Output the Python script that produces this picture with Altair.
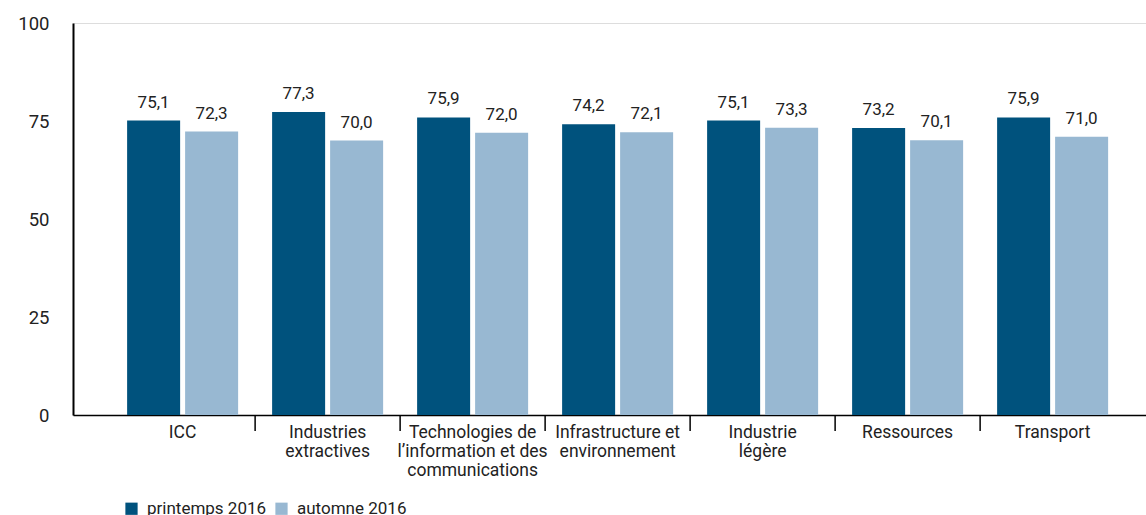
import altair as alt
import pandas as pd

categories = ["ICC", "Industries|extractives", "Technologies de|l\u2019information et des|communications",
              "Infrastructure et|environnement", "Industrie|légère", "Ressources", "Transport"]
series = ["printemps 2016", "automne 2016"]
printemps = [75.1, 77.3, 75.9, 74.2, 75.1, 73.2, 75.9]
automne = [72.3, 70.0, 72.0, 72.1, 73.3, 70.1, 71.0]
y_ticks = [0, 25, 50, 75, 100]

rows = []
for c, a, b in zip(categories, printemps, automne):
    rows.append({"cat": c, "serie": series[0], "val": a, "lab": f"{a:.1f}".replace(".", ",")})
    rows.append({"cat": c, "serie": series[1], "val": b, "lab": f"{b:.1f}".replace(".", ",")})
df = pd.DataFrame(rows)
sep = pd.DataFrame({"cat": categories[1:]})

FONT = "Roboto"
TXT = "#222222"

xscale = alt.Scale(domain=categories, paddingInner=0, paddingOuter=0.2, align=0.64)
xoff = alt.XOffset("serie:N", sort=series,
                   scale=alt.Scale(domain=series, paddingInner=0.086, paddingOuter=0.293))

x_enc = alt.X("cat:N", sort=categories, scale=xscale,
              axis=alt.Axis(title=None, ticks=False, domainColor="black", domainWidth=1.5,
                            labelAngle=0, labelFont=FONT, labelFontSize=17.5, labelColor=TXT,
                            labelBaseline="top", labelPadding=8, labelLineHeight=19,
                            labelExpr="split(datum.label, '|')"))

base = alt.Chart(df)
bars = base.mark_bar().encode(
    x=x_enc,
    xOffset=xoff,
    y=alt.Y("val:Q", scale=alt.Scale(domain=[0, 100], nice=False),
            axis=alt.Axis(title=None, values=y_ticks, grid=False, ticks=False,
                          domainColor="black", domainWidth=2, labelFont=FONT,
                          labelFontSize=18.5, labelColor=TXT, labelPadding=24)),
    color=alt.Color("serie:N", sort=series,
                    scale=alt.Scale(domain=series, range=["#00527d", "#98b8d2"]),
                    legend=alt.Legend(title=None, orient="none", legendX=50, legendY=477,
                                      direction="horizontal", symbolType="square",
                                      symbolSize=150, symbolStrokeWidth=0,
                                      labelFont=FONT, labelFontSize=17, labelColor=TXT,
                                      labelOffset=7, columnPadding=6)),
)
texts = base.mark_text(baseline="bottom", dy=-9, font=FONT, fontSize=17, color=TXT).encode(
    x=alt.X("cat:N", sort=categories, scale=xscale),
    xOffset=xoff,
    y=alt.Y("val:Q"),
    text="lab:N",
)
rules = alt.Chart(sep).mark_rule(color="black", strokeWidth=1.5).encode(
    x=alt.X("cat:N", sort=categories, scale=xscale, bandPosition=0),
    y=alt.value(392),
    y2=alt.value(408),
)

chart = alt.layer(bars, texts, rules).properties(
    width=1073, height=392,
    autosize=alt.AutoSizeParams(type="none"),
    padding={"left": 73, "top": 23, "right": 0, "bottom": 100},
).configure_view(stroke="transparent", strokeWidth=0).configure(background="white")

chart.save("out.html", embed_options={"renderer": "svg", "actions": False})
